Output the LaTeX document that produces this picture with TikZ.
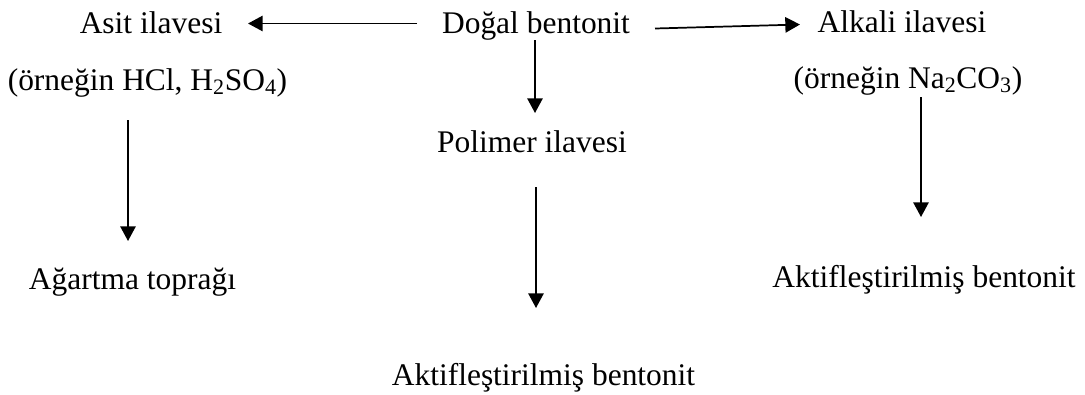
\documentclass[tikz,border=0pt]{standalone}
\usepackage{fontspec}
\setmainfont{Liberation Serif}
\usetikzlibrary{arrows.meta}
\begin{document}
\begin{tikzpicture}[x=0.75pt,y=-0.75pt,
  lbl/.style={anchor=base,inner sep=0pt,font=\fontsize{23.6pt}{28pt}\selectfont},
  flow/.style={line width=1.3pt,-{Triangle[length=11pt,width=11.5pt]}}]
\useasboundingbox (0,0) rectangle (1085,394);
% labels
\node[lbl] (dogal)  at (536,33)  {Doğal bentonit};
\node[lbl] (asit)   at (151,33)  {Asit ilavesi};
\node[lbl] (asitex) at (147.5,90) {(örneğin HCl, H\textsubscript{2}SO\textsubscript{4})};
\node[lbl] (alk)    at (902,32)  {Alkali ilavesi};
\node[lbl] (alkex)  at (908,88)  {(örneğin Na\textsubscript{2}CO\textsubscript{3})};
\node[lbl] (pol)    at (532,152) {Polimer ilavesi};
\node[lbl] (agart)  at (132.5,289) {Ağartma toprağı};
\node[lbl] (aktR)   at (924,287) {Aktifleştirilmiş bentonit};
\node[lbl] (aktM)   at (543.5,385) {Aktifleştirilmiş bentonit};
% arrow end points
\coordinate (a1s) at (417,23.5);  \coordinate (a1e) at (248,23.5);
\coordinate (a2s) at (655,28.5);  \coordinate (a2e) at (800,24.5);
\coordinate (a3s) at (535,40);    \coordinate (a3e) at (535,113);
\coordinate (a4s) at (128,120);   \coordinate (a4e) at (128,241);
\coordinate (a5s) at (921,97);    \coordinate (a5e) at (921,217);
\coordinate (a6s) at (536,187);   \coordinate (a6e) at (536,308);
% arrows
\draw[flow] (a1s) -- (a1e);
\draw[flow] (a2s) -- (a2e);
\draw[flow] (a3s) -- (a3e);
\draw[flow] (a4s) -- (a4e);
\draw[flow] (a5s) -- (a5e);
\draw[flow] (a6s) -- (a6e);
\end{tikzpicture}
\end{document}
